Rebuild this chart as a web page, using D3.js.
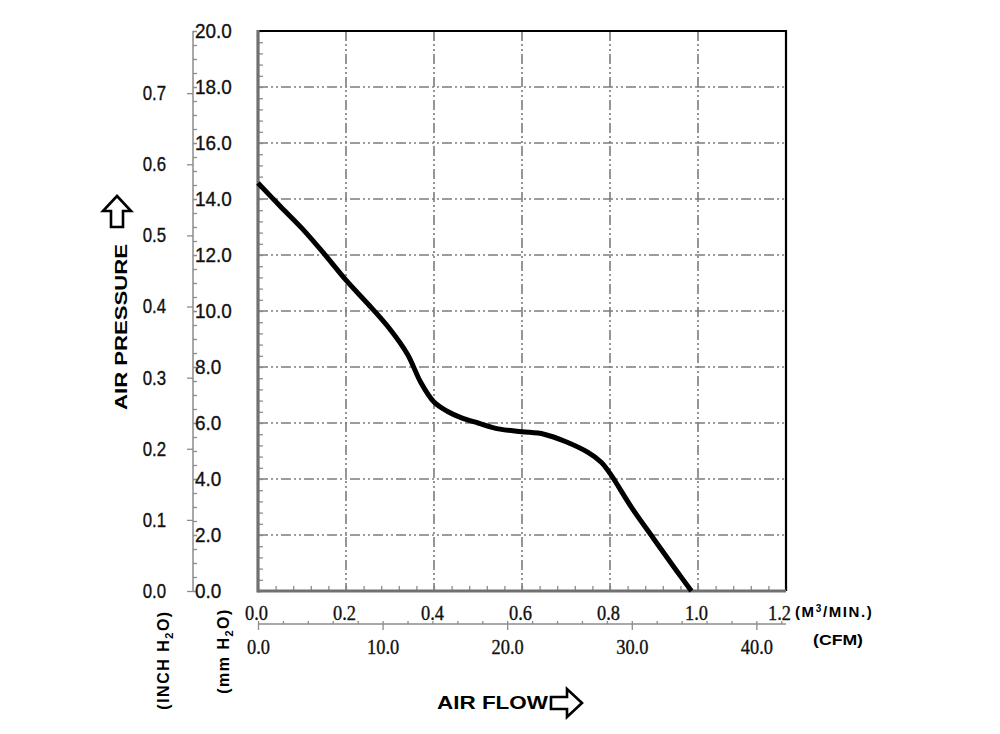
<!DOCTYPE html>
<html>
<head>
<meta charset="utf-8">
<script src="https://cdn.jsdelivr.net/npm/d3@7"></script>
<style>
  html, body { margin: 0; padding: 0; background: #fff; }
  svg { display: block; }
  .sans { font-family: "Liberation Sans", Arial, sans-serif; }
  .serif { font-family: "Liberation Serif", "Times New Roman", serif; }
  .axis path { display: none; }
  .axis line { stroke: #8c8c8c; stroke-width: 1.3; }
  .axis text { stroke: #111; stroke-width: 0.35; }
</style>
</head>
<body>
<svg id="chart" width="1000" height="734"></svg>
<script>
// fan P-Q curve
const FLOW_M3 = [0, 0.05, 0.1, 0.15, 0.2, 0.25, 0.3, 0.34, 0.37, 0.4, 0.43, 0.46, 0.5, 0.55, 0.6, 0.65, 0.7, 0.75, 0.78, 0.8, 0.85, 0.9, 0.95, 0.985];
const PRESSURE_MM = [14.57, 13.75, 12.95, 12.05, 11.1, 10.25, 9.35, 8.45, 7.45, 6.75, 6.42, 6.2, 6.0, 5.78, 5.69, 5.6, 5.33, 4.95, 4.6, 4.2, 2.96, 1.85, 0.75, 0];

const MM_TICKS = [0, 2, 4, 6, 8, 10, 12, 14, 16, 18, 20];
const INCH_TICKS = [0, 0.1, 0.2, 0.3, 0.4, 0.5, 0.6, 0.7];
const M3_TICKS = [0, 0.2, 0.4, 0.6, 0.8, 1.0, 1.2];
const CFM_TICKS = [0, 10, 20, 30, 40];

const MM_PER_INCH = 25.4;
const CFM_PER_M3 = 35.3147;

const svg = d3.select("#chart");

const plot = { left: 258, right: 786, top: 31, bottom: 591 };
const x = d3.scaleLinear().domain([0, 1.2]).range([plot.left, plot.right]);
const xCfm = d3.scaleLinear().domain([0, 1.2 * CFM_PER_M3]).range([plot.left, plot.right]);
const y = d3.scaleLinear().domain([0, 20]).range([plot.bottom, plot.top]);
const yInch = d3.scaleLinear().domain([0, 20 / MM_PER_INCH]).range([plot.bottom, plot.top]);

const fmt1 = d3.format(".1f");
const stepRange = (a, b, s) => d3.range(Math.round((b - a) / s) + 1).map(i => +(a + i * s).toFixed(4));

// the source uses a tall, narrow face; squeeze the glyphs a little
function narrow(sel, factor) {
  sel.each(function () {
    const w = this.getComputedTextLength();
    d3.select(this).attr("textLength", w * factor).attr("lengthAdjust", "spacingAndGlyphs");
  });
}

// grid
const gridDash = "10,3,2,3,2,3";
svg.append("g").selectAll("line")
  .data(M3_TICKS.filter(d => d > 0 && d < 1.2))
  .join("line")
  .attr("x1", d => x(d)).attr("x2", d => x(d))
  .attr("y1", plot.top).attr("y2", plot.bottom)
  .attr("stroke", "#7c7c7c").attr("stroke-width", 1.6)
  .attr("stroke-dasharray", gridDash);
svg.append("g").selectAll("line")
  .data(MM_TICKS.filter(d => d > 0 && d < 20))
  .join("line")
  .attr("x1", plot.left).attr("x2", plot.right)
  .attr("y1", d => y(d)).attr("y2", d => y(d))
  .attr("stroke", "#7c7c7c").attr("stroke-width", 1.6)
  .attr("stroke-dasharray", gridDash);

// small ticks on the inside of the frame
svg.append("g").attr("class", "axis")
  .attr("transform", `translate(${plot.left},0)`)
  .call(d3.axisRight(y).tickValues(stepRange(0, 20, 0.4)).tickSize(5).tickFormat(""));
svg.append("g").attr("class", "axis")
  .attr("transform", `translate(0,${plot.bottom})`)
  .call(d3.axisTop(x).tickValues(stepRange(0, 1.2, 0.04)).tickSize(5).tickFormat(""));

// frame
svg.append("line").attr("x1", plot.left).attr("x2", plot.right).attr("y1", plot.top).attr("y2", plot.top)
  .attr("stroke", "#000").attr("stroke-width", 2.2);
svg.append("line").attr("x1", plot.right).attr("x2", plot.right).attr("y1", plot.top - 1).attr("y2", plot.bottom)
  .attr("stroke", "#000").attr("stroke-width", 2.2);
svg.append("line").attr("x1", plot.left).attr("x2", plot.left).attr("y1", plot.top - 1).attr("y2", plot.bottom + 1.5)
  .attr("stroke", "#707070").attr("stroke-width", 3.2);
svg.append("line").attr("x1", plot.left).attr("x2", plot.right).attr("y1", plot.bottom).attr("y2", plot.bottom)
  .attr("stroke", "#707070").attr("stroke-width", 3.2);

// curve
const curveData = FLOW_M3.map((f, i) => [f, PRESSURE_MM[i]]);
svg.append("path")
  .datum(curveData)
  .attr("fill", "none")
  .attr("stroke", "#000")
  .attr("stroke-width", 5)
  .attr("stroke-linejoin", "round")
  .attr("d", d3.line().x(d => x(d[0])).y(d => y(d[1])).curve(d3.curveCatmullRom.alpha(0.5)));

// left axes (mm on the right side of the line, inch on the left)
const axisX = 193;
svg.append("line").attr("x1", axisX).attr("x2", axisX).attr("y1", plot.top).attr("y2", plot.bottom)
  .attr("stroke", "#8c8c8c").attr("stroke-width", 1.5);
svg.append("g").attr("class", "axis")
  .attr("transform", `translate(${axisX},0)`)
  .call(d3.axisRight(y).tickValues(stepRange(0, 20, 0.5)).tickSize(4).tickFormat(""));
svg.append("g").attr("class", "axis sans")
  .attr("transform", `translate(${axisX},0)`)
  .call(d3.axisRight(y).tickValues(MM_TICKS).tickSize(4).tickPadding(-2).tickFormat(fmt1))
  .call(g => g.selectAll("text").attr("font-size", 21).attr("fill", "#111").attr("font-family", null).call(narrow, 0.9));
svg.append("g").attr("class", "axis sans")
  .attr("transform", `translate(${axisX},0)`)
  .call(d3.axisLeft(yInch).tickValues(INCH_TICKS).tickSize(6).tickPadding(21).tickFormat(fmt1))
  .call(g => g.selectAll("text").attr("font-size", 20).attr("fill", "#111").attr("font-family", null).call(narrow, 0.84));

// bottom axes (m3/min above the line, cfm below)
const axisY = 624;
svg.append("line").attr("x1", plot.left).attr("x2", plot.right).attr("y1", axisY).attr("y2", axisY)
  .attr("stroke", "#8c8c8c").attr("stroke-width", 1.5);
svg.append("g").attr("class", "axis")
  .attr("transform", `translate(0,${axisY})`)
  .call(d3.axisTop(xCfm).tickValues(stepRange(0, 42, 2)).tickSize(3).tickFormat(""));
svg.append("g").attr("class", "axis serif")
  .attr("transform", `translate(0,${axisY})`)
  .call(d3.axisBottom(xCfm).tickValues(CFM_TICKS).tickSize(6).tickPadding(10).tickFormat(fmt1))
  .call(g => g.selectAll("text").attr("font-size", 20).attr("fill", "#111").attr("font-family", null).call(narrow, 0.92));
svg.append("g").attr("class", "axis serif")
  .attr("transform", `translate(0,${axisY})`)
  .call(d3.axisTop(x).tickValues(M3_TICKS).tickSize(0).tickPadding(4).tickFormat(fmt1))
  .call(g => g.selectAll("text")
    .attr("font-size", 20).attr("fill", "#111").attr("font-family", null)
    .attr("x", d => d === 1.2 ? -7 : -2)
    .call(narrow, 0.92));

// unit labels
const bold = sel => sel.attr("class", "sans").attr("font-weight", "bold").attr("fill", "#000");

const m3 = svg.append("text").call(bold).attr("x", 795).attr("y", 617)
  .attr("font-size", 15).attr("letter-spacing", 1.6);
m3.append("tspan").text("(M");
m3.append("tspan").text("3").attr("font-size", 10).attr("dy", -5);
m3.append("tspan").text("/MIN.)").attr("dy", 5);

svg.append("text").call(bold).attr("x", 813).attr("y", 645).attr("font-size", 15)
  .attr("textLength", 50).attr("lengthAdjust", "spacingAndGlyphs").text("(CFM)");

svg.append("text").call(bold).attr("x", 437).attr("y", 709).attr("font-size", 18)
  .attr("textLength", 111).attr("lengthAdjust", "spacingAndGlyphs").text("AIR FLOW");

svg.append("text").call(bold)
  .attr("transform", "translate(127,410) rotate(-90)")
  .attr("font-size", 17)
  .attr("textLength", 166).attr("lengthAdjust", "spacingAndGlyphs")
  .text("AIR PRESSURE");

function h2oLabel(cx, cy, prefix) {
  const t = svg.append("text").call(bold)
    .attr("transform", `translate(${cx},${cy}) rotate(-90)`)
    .attr("font-size", 16)
    .attr("text-anchor", "middle")
    .attr("letter-spacing", 1.5);
  t.append("tspan").text(prefix + " H");
  t.append("tspan").text("2").attr("font-size", 11).attr("dy", 4);
  t.append("tspan").text("O)").attr("dy", -4);
  return t;
}
h2oLabel(169, 660, "(INCH");
h2oLabel(229, 651, "(mm");

// arrows
svg.append("path")
  .attr("d", "M117,196 L131,211 L123,211 L123,227 L111,227 L111,211 L103,211 Z")
  .attr("fill", "#fff").attr("stroke", "#000").attr("stroke-width", 2.6).attr("stroke-linejoin", "miter");
svg.append("path")
  .attr("d", "M582,703 L567,689 L567,697 L551,697 L551,709 L567,709 L567,717 Z")
  .attr("fill", "#fff").attr("stroke", "#000").attr("stroke-width", 2.6).attr("stroke-linejoin", "miter");
</script>
</body>
</html>
